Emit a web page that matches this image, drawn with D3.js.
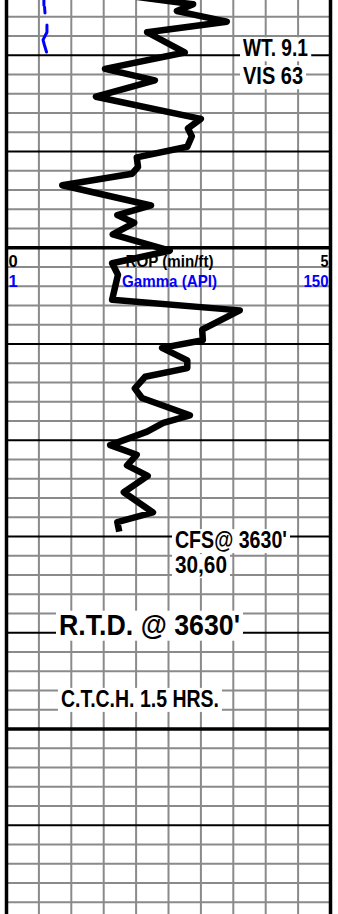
<!DOCTYPE html>
<html>
<head>
<meta charset="utf-8">
<script src="https://cdn.jsdelivr.net/npm/d3@7"></script>
<style>
  html, body { margin: 0; padding: 0; background: #fff; }
  svg { display: block; }
  text { font-family: "Liberation Sans", Arial, sans-serif; font-weight: bold; }
</style>
</head>
<body>
<svg id="log" width="338" height="914"></svg>
<script>
// Rate of penetration (min/ft) picked at each depth (ft)
const ropDepth = [3573.9, 3574.7, 3575.4, 3576.5, 3577.6, 3579.7, 3581.4, 3582.6, 3584.3, 3586.6,
                  3587.6, 3588.4, 3589.5, 3590.6, 3591.6, 3592.3, 3593.5, 3595.6, 3596.6, 3597.4,
                  3598.6, 3600.3, 3601.6, 3602.8, 3605.4, 3606.5, 3608.5, 3609.6, 3610.4, 3611.7,
                  3612.5, 3613.4, 3614.6, 3615.6, 3617.4, 3618.2, 3619.1, 3620.5, 3621.5, 3622.6,
                  3623.7, 3625.4, 3627.5, 3628.5, 3629.5];
const ropValue = [1.98, 2.88, 2.63, 3.40, 2.17, 2.75, 1.52, 2.29, 1.38, 3.00,
                  2.80, 2.86, 2.79, 2.01, 2.03, 1.94, 0.86, 2.23, 1.71, 1.97,
                  1.64, 2.52, 1.63, 1.72, 1.63, 3.60, 3.02, 3.03, 2.40, 2.79,
                  2.79, 2.14, 1.98, 2.09, 2.83, 2.42, 2.17, 1.60, 2.01, 1.86,
                  2.18, 1.81, 2.26, 1.71, 1.74];

// Gamma ray (API); null marks a gap in the record
const gammaDepth = [3574.0, 3574.8, null, 3575.0, 3575.6, null, 3576.85, 3577.6, 3578.4, 3578.9, 3579.65];
const gammaValue = [18.2, 18.2, null, 18.5, 18.7, null, 19.6, 19.6, 17.8, 18.4, 19.4];

// Track scales
const ropRange = [0, 5];
const gammaRange = [1, 150];
const ropTickStep = 0.5;
const depthTop = 3574.25, depthBottom = 3669.22;
const rowStep = 2, darkStep = 10, heavyStep = 50;

// Header labels (left value, title, right value)
const ropHeader = ["0", "ROP (min/ft)", "5"];
const gammaHeader = ["1", "Gamma (API)", "150"];
const headerDepth = 3600;

// Remarks written on the log
const remarkText  = ["WT. 9.1", "VIS 63", "CFS@ 3630'", "30,60", "R.T.D. @ 3630'", "C.T.C.H. 1.5 HRS."];
const remarkDepth = [3580.1, 3583.0, 3631.2, 3633.8, 3640.2, 3647.7];
const remarkRop   = [3.65, 3.65, 2.60, 2.60, 0.81, 0.84];

const W = 338, H = 914;
const left = 6.5, right = 330.5;
const svg = d3.select("#log");

const x = d3.scaleLinear().domain(ropRange).range([left, right]);
const xg = d3.scaleLinear().domain(gammaRange).range([left, right]);
const y = d3.scaleLinear().domain([depthTop, depthBottom]).range([0, H]);

// Condensed lettering: squeeze a text run to a set width
function narrow(sel, w) {
  return sel.attr("textLength", w).attr("lengthAdjust", "spacingAndGlyphs");
}

// Depth grid
const rows = d3.range(Math.ceil(depthTop / rowStep) * rowStep, depthBottom + 0.01, rowStep);
const vticks = d3.range(ropRange[0] + ropTickStep, ropRange[1] - 1e-6, ropTickStep);

const grid = svg.append("g");
grid.selectAll("line.v").data(vticks).join("line")
  .attr("x1", d => x(d)).attr("x2", d => x(d))
  .attr("y1", 0).attr("y2", H)
  .attr("stroke", "#8a8a8a").attr("stroke-width", 2);

const rowKind = d => (Math.round(d) % heavyStep === 0) ? 2 : (Math.round(d) % darkStep === 0 ? 1 : 0);
grid.selectAll("line.h").data(rows.slice().sort((a, b) => rowKind(a) - rowKind(b))).join("line")
  .attr("x1", left).attr("x2", right)
  .attr("y1", d => y(d)).attr("y2", d => y(d))
  .attr("stroke", d => rowKind(d) ? "#000" : "#8a8a8a")
  .attr("stroke-width", d => rowKind(d) === 2 ? 3.5 : 2);

// Track borders
grid.selectAll("line.b").data(ropRange).join("line")
  .attr("x1", d => x(d)).attr("x2", d => x(d))
  .attr("y1", 0).attr("y2", H)
  .attr("stroke", "#000").attr("stroke-width", 3.5);

// Header
const hy = y(headerDepth);
const header = svg.append("g");
[[ropHeader, "#000", 19.5, 88, 8], [gammaHeader, "#0000ff", 39.5, 95, 25]].forEach(([lab, col, dy, wTitle, wRight]) => {
  header.append("text").attr("x", x(ropRange[0]) + 2).attr("y", hy + dy)
    .attr("font-size", 16.5).attr("fill", col).text(lab[0]);
  narrow(header.append("text").attr("x", (x(ropRange[0]) + x(ropRange[1])) / 2 + 1).attr("y", hy + dy)
    .attr("text-anchor", "middle").attr("font-size", 16.5).attr("fill", col).text(lab[1]), wTitle);
  narrow(header.append("text").attr("x", x(ropRange[1]) - 2).attr("y", hy + dy)
    .attr("text-anchor", "end").attr("font-size", 16.5).attr("fill", col).text(lab[2]), wRight);
});

// Gamma curve
const gammaPts = gammaDepth.map((d, i) => ({ d, v: gammaValue[i] }));
svg.append("path").datum(gammaPts)
  .attr("fill", "none").attr("stroke", "#0000ff").attr("stroke-width", 3)
  .attr("stroke-linejoin", "round").attr("stroke-linecap", "round")
  .attr("d", d3.line().defined(p => p.d !== null).x(p => xg(p.v)).y(p => y(p.d)));

// ROP curve
const ropPts = ropDepth.map((d, i) => ({ d, v: ropValue[i] }));
svg.append("path").datum(ropPts)
  .attr("fill", "none").attr("stroke", "#000").attr("stroke-width", 6.5)
  .attr("stroke-linejoin", "round").attr("stroke-linecap", "butt")
  .attr("d", d3.line().x(p => x(p.v)).y(p => y(p.d)));

// Remarks with white backing
const remarkSize  = [23, 23, 23, 23, 29, 23];
const remarkWidth = [65, 60, 112, 52, 181, 158];
const remarks = svg.append("g");
remarkText.forEach((t, i) => {
  const g = remarks.append("g");
  const bg = g.append("rect").attr("fill", "#fff");
  const tx = narrow(g.append("text").attr("x", x(remarkRop[i])).attr("y", y(remarkDepth[i]))
    .attr("font-size", remarkSize[i]).attr("fill", "#000").text(t), remarkWidth[i]);
  const b = tx.node().getBBox();
  bg.attr("x", b.x - 3).attr("y", b.y + 2).attr("width", b.width + 6).attr("height", b.height - 2);
});
</script>
</body>
</html>
